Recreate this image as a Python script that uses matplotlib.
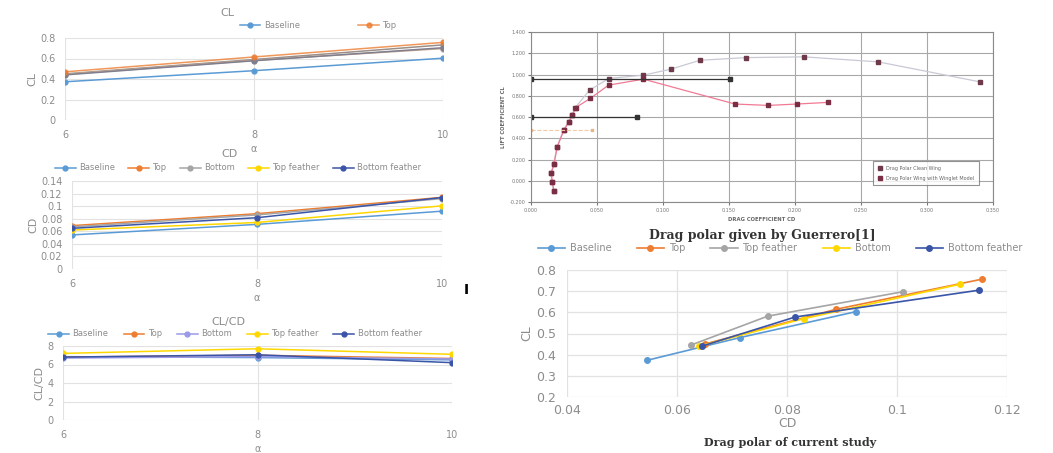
import matplotlib
matplotlib.use("Agg")
import matplotlib.pyplot as plt
import numpy as np

# ---------------- data ----------------
alpha = [6, 8, 10]
alpha_ticks = [6, 8, 10]

# CL vs alpha
cl_names = ["Baseline", "Top", "Bottom", "Top feather", "Bottom feather"]
cl_baseline = [0.373, 0.481, 0.603]
cl_top = [0.47, 0.615, 0.757]
cl_bottom = [0.45, 0.59, 0.733]
cl_topfeather = [0.445, 0.582, 0.697]
cl_bottomfeather = [0.44, 0.578, 0.705]

# CD vs alpha
cd_names = ["Baseline", "Top", "Bottom", "Top feather", "Bottom feather"]
cd_baseline = [0.0542, 0.071, 0.092]
cd_top = [0.069, 0.088, 0.114]
cd_bottom = [0.067, 0.086, 0.112]
cd_topfeather = [0.062, 0.074, 0.1005]
cd_bottomfeather = [0.0647, 0.0816, 0.1137]

# CL/CD vs alpha
ld_names = ["Baseline", "Top", "Bottom", "Top feather", "Bottom feather"]
ld_baseline = [6.85, 6.75, 6.5]
ld_top = [6.8, 7.0, 6.65]
ld_bottom = [6.7, 6.85, 6.6]
ld_topfeather = [7.2, 7.7, 7.1]
ld_bottomfeather = [6.8, 7.05, 6.2]

# Drag polar of current study
polar_names = ["Baseline", "Top", "Top feather", "Bottom", "Bottom feather"]
polar_cd_baseline = [0.0545, 0.0715, 0.0925]
polar_cl_baseline = [0.373, 0.481, 0.603]
polar_cd_top = [0.065, 0.089, 0.1155]
polar_cl_top = [0.45, 0.615, 0.757]
polar_cd_topfeather = [0.0625, 0.0765, 0.101]
polar_cl_topfeather = [0.445, 0.582, 0.697]
polar_cd_bottom = [0.064, 0.083, 0.1115]
polar_cl_bottom = [0.44, 0.57, 0.733]
polar_cd_bottomfeather = [0.0645, 0.0815, 0.115]
polar_cl_bottomfeather = [0.44, 0.578, 0.705]

# Drag polar given by Guerrero
g_names = ["Drag Polar Clean Wing", "Drag Polar Wing with Winglet Model"]
g_cd_clean = [0.0172, 0.0159, 0.0151, 0.0171, 0.0197, 0.0247, 0.0285, 0.031, 0.0335,
              0.0444, 0.0588, 0.0852, 0.1059, 0.128, 0.163, 0.207, 0.263, 0.340]
g_cl_clean = [-0.10, -0.016, 0.072, 0.156, 0.322, 0.478, 0.556, 0.619, 0.688,
              0.853, 0.962, 0.994, 1.05, 1.134, 1.159, 1.166, 1.119, 0.931]
g_cd_winglet = [0.0175, 0.0162, 0.0154, 0.0174, 0.020, 0.025, 0.0288, 0.0313, 0.0338,
                0.0449, 0.0588, 0.0852, 0.1546, 0.1798, 0.2013, 0.2252]
g_cl_winglet = [-0.10, -0.016, 0.072, 0.156, 0.322, 0.478, 0.556, 0.619, 0.688,
                0.775, 0.90, 0.956, 0.722, 0.709, 0.722, 0.7375]
g_ref1_cd = [0.0, 0.1508]
g_ref1_cl = [0.956, 0.956]
g_ref2_cd = [0.0, 0.0802]
g_ref2_cl = [0.603, 0.603]
g_ref3_cd = [0.0, 0.046]
g_ref3_cl = [0.478, 0.478]

# ---------------- style ----------------
C_BLUE = "#5B9BD5"
C_ORANGE = "#ED7D31"
C_GRAY = "#A5A5A5"
C_YELLOW = "#FFD700"
C_NAVY = "#3A55A8"
C_LAV = "#9A9AE8"
TXT = "#8C8C8C"
GRID = "#E2E2E2"

W, H = 1053, 453
fig = plt.figure(figsize=(W / 100, H / 100), dpi=100)


def fax(x0, y0, x1, y1):
    return fig.add_axes([x0 / W, 1 - y1 / H, (x1 - x0) / W, (y1 - y0) / H])


def style_left(ax, ylim, yticks, ylabel, ylabels=None):
    ax.set_xlim(6, 10)
    ax.set_ylim(*ylim)
    ax.set_xticks(alpha_ticks)
    ax.set_yticks(yticks)
    if ylabels is not None:
        ax.set_yticklabels(ylabels)
    for s in ax.spines.values():
        s.set_visible(False)
    ax.grid(True, color=GRID, lw=0.8)
    ax.set_axisbelow(True)
    ax.tick_params(length=0, colors=TXT, labelsize=7, pad=7)
    ax.set_ylabel(ylabel, color=TXT, fontsize=8, labelpad=2)
    ax.set_xlabel("α", color=TXT, fontsize=7, labelpad=3)


mk = dict(marker="o", ms=3.5, lw=1.1)

# ---- CL chart ----
ax1 = fax(65, 38, 443, 120)
ax1.plot(alpha, cl_bottom, color="#9C8F88", **mk)
ax1.plot(alpha, cl_topfeather, color="#C8A88F", **mk)
ax1.plot(alpha, cl_bottomfeather, color="#7F7F8F", **mk)
l1 = ax1.plot(alpha, cl_baseline, color=C_BLUE, label=cl_names[0], **mk)
l2 = ax1.plot(alpha, cl_top, color=C_ORANGE, label=cl_names[1], alpha=0.8, **mk)
style_left(ax1, (0, 0.8), [0, 0.2, 0.4, 0.6, 0.8], "CL", ["0", "0.2", "0.4", "0.6", "0.8"])
fig.text(227 / W, 1 - 13 / H, "CL", ha="center", va="center", color=TXT, fontsize=8)
fig.legend(handles=[l1[0], l2[0]], loc="center", bbox_to_anchor=(318 / W, 1 - 25 / H),
           ncol=2, frameon=False, fontsize=6, labelcolor=TXT, columnspacing=7,
           handlelength=2.5, handletextpad=0.4)

# ---- CD chart ----
ax2 = fax(72, 181, 442, 269)
cd_series = [cd_baseline, cd_top, cd_bottom, cd_topfeather, cd_bottomfeather]
cd_colors = [C_BLUE, C_ORANGE, C_GRAY, C_YELLOW, C_NAVY]
hs = []
for name, vals, c in zip(cd_names, cd_series, cd_colors):
    hs.append(ax2.plot(alpha, vals, color=c, label=name, **mk)[0])
style_left(ax2, (0, 0.14), np.arange(0, 0.141, 0.02), "CD",
           ["0", "0.02", "0.04", "0.06", "0.08", "0.1", "0.12", "0.14"])
fig.text(230 / W, 1 - 154 / H, "CD", ha="center", va="center", color=TXT, fontsize=8)
fig.legend(handles=hs, loc="center", bbox_to_anchor=(238 / W, 1 - 168 / H),
           ncol=5, frameon=False, fontsize=6, labelcolor=TXT, columnspacing=1.6,
           handlelength=2.5, handletextpad=0.4)

# ---- CL/CD chart ----
ax3 = fax(63, 346, 452, 420)
ld_series = [ld_baseline, ld_top, ld_bottom, ld_topfeather, ld_bottomfeather]
ld_colors = [C_BLUE, C_ORANGE, C_LAV, C_YELLOW, C_NAVY]
hs = []
for name, vals, c in zip(ld_names, ld_series, ld_colors):
    hs.append(ax3.plot(alpha, vals, color=c, label=name, **mk)[0])
style_left(ax3, (0, 8), [0, 2, 4, 6, 8], "CL/CD")
fig.text(228 / W, 1 - 322 / H, "CL/CD", ha="center", va="center", color=TXT, fontsize=8)
fig.legend(handles=hs, loc="center", bbox_to_anchor=(235 / W, 1 - 334 / H),
           ncol=5, frameon=False, fontsize=6, labelcolor=TXT, columnspacing=1.8,
           handlelength=2.5, handletextpad=0.4)

fig.text(466 / W, 1 - 290 / H, "I", ha="center", va="center", color="black",
         fontsize=10, fontweight="bold")

# ---- Guerrero drag polar ----
ax4 = fax(531, 32, 993, 202)
ax4.plot(g_cd_clean, g_cl_clean, color="#C9C9D6", lw=0.9, marker="s", ms=2.5,
         mfc="#6E3A4A", mec="#6E3A4A", label=g_names[0])
ax4.plot(g_cd_winglet, g_cl_winglet, color="#F07A94", lw=0.9, marker="s", ms=2.5,
         mfc="#7A2E44", mec="#7A2E44", label=g_names[1])
ax4.plot(g_ref1_cd, g_ref1_cl, color="#333333", lw=0.9, marker="s", ms=2.5)
ax4.plot(g_ref2_cd, g_ref2_cl, color="#333333", lw=0.9, marker="s", ms=2.5)
ax4.plot(g_ref3_cd, g_ref3_cl, color="#F5C9A8", lw=0.8, ls="--", marker="s", ms=2,
         mfc="#E8B48A", mec="#E8B48A")
ax4.set_xlim(0, 0.35)
ax4.set_ylim(-0.2, 1.4)
ax4.set_xticks(np.arange(0, 0.351, 0.05))
ax4.set_yticks(np.arange(-0.2, 1.401, 0.2))
ax4.set_xticklabels([f"{v:.3f}" for v in np.arange(0, 0.351, 0.05)])
ax4.set_yticklabels([f"{v:.3f}" for v in np.arange(-0.2, 1.401, 0.2)])
ax4.grid(True, color="#A8A8A8", lw=0.8)
ax4.set_axisbelow(True)
for s in ax4.spines.values():
    s.set_color("#8A8A8A")
    s.set_linewidth(0.8)
ax4.tick_params(length=2, colors="#777777", labelsize=3.5, pad=2)
ax4.set_xlabel("DRAG COEFFICIENT CD", fontsize=3.8, color="#666666", labelpad=3,
               fontweight="bold")
ax4.set_ylabel("LIFT COEFFICIENT CL", fontsize=3.8, color="#666666", labelpad=3,
               fontweight="bold")
leg4 = ax4.legend(loc="center", bbox_to_anchor=(0.855, 0.17), fontsize=3.5,
                  frameon=True, fancybox=False, edgecolor="#777777",
                  labelcolor="#666666", handlelength=0.8, borderpad=1.0,
                  labelspacing=1.0)
leg4.get_frame().set_linewidth(0.8)
fig.text(762 / W, 1 - 236 / H, "Drag polar given by Guerrero[1]", ha="center",
         va="center", family="DejaVu Serif", fontsize=9, fontweight="bold",
         color="#333333")

# ---- Drag polar of current study ----
ax5 = fax(567, 270, 1007, 397)
p_series = [(polar_cd_baseline, polar_cl_baseline), (polar_cd_top, polar_cl_top),
            (polar_cd_topfeather, polar_cl_topfeather), (polar_cd_bottom, polar_cl_bottom),
            (polar_cd_bottomfeather, polar_cl_bottomfeather)]
p_colors = [C_BLUE, C_ORANGE, C_GRAY, C_YELLOW, C_NAVY]
hs = []
for name, (xs, ys), c in zip(polar_names, p_series, p_colors):
    hs.append(ax5.plot(xs, ys, color=c, label=name, marker="o", ms=4, lw=1.2)[0])
ax5.set_xlim(0.04, 0.12)
ax5.set_ylim(0.2, 0.8)
ax5.set_xticks([0.04, 0.06, 0.08, 0.1, 0.12])
ax5.set_xticklabels(["0.04", "0.06", "0.08", "0.1", "0.12"])
ax5.set_yticks([0.2, 0.3, 0.4, 0.5, 0.6, 0.7, 0.8])
ax5.set_yticklabels(["0.2", "0.3", "0.4", "0.5", "0.6", "0.7", "0.8"])
for s in ax5.spines.values():
    s.set_visible(False)
ax5.grid(True, color=GRID, lw=0.9)
ax5.set_axisbelow(True)
ax5.tick_params(axis="x", length=0, colors=TXT, labelsize=9, pad=5)
ax5.tick_params(axis="y", length=0, colors=TXT, labelsize=9, pad=8)
ax5.set_ylabel("CL", color=TXT, fontsize=9, labelpad=2)
ax5.set_xlabel("CD", color=TXT, fontsize=9, labelpad=0)
fig.legend(handles=hs, loc="center", bbox_to_anchor=(780 / W, 1 - 248 / H),
           ncol=5, frameon=False, fontsize=7, labelcolor=TXT, columnspacing=2.6,
           handlelength=2.8, handletextpad=0.5)
fig.text(790 / W, 1 - 442 / H, "Drag polar of current study", ha="center",
         va="center", family="DejaVu Serif", fontsize=8, fontweight="bold",
         color="#333333")

fig.savefig("out.png", dpi=100)
